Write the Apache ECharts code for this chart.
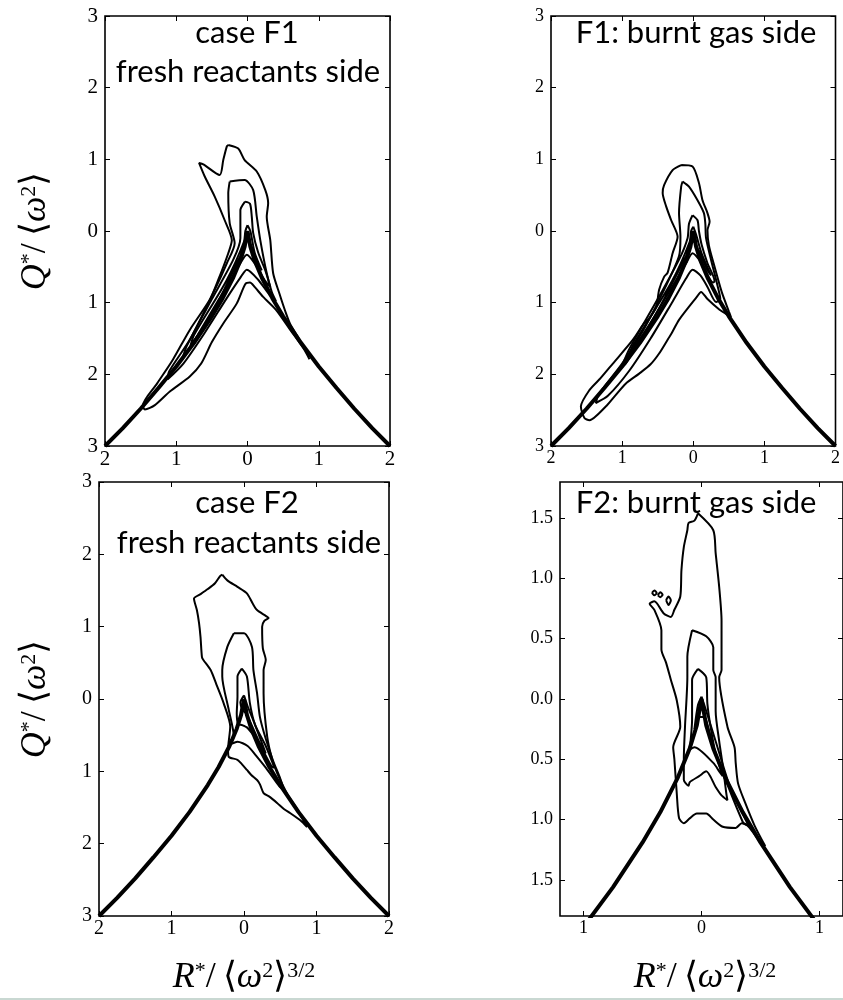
<!DOCTYPE html>
<html>
<head>
<meta charset="utf-8">
<script src="https://cdn.jsdelivr.net/npm/echarts@6/dist/echarts.min.js"></script>
<style>
  html, body { margin: 0; background: #fff; }
  #chart { width: 843px; height: 1000px; }
</style>
</head>
<body>
<div id="chart"></div>
<script>
// Vieillefosse line (same in every panel)
const vlineR = [-2, -1.75, -1.5, -1.25, -1, -0.75, -0.5, -0.35, -0.2, -0.1, -0.04, 0, 0.04, 0.1, 0.2, 0.35, 0.5, 0.75, 1, 1.25, 1.5, 1.75, 2];
const vlineQ = [-3, -2.75, -2.48, -2.19, -1.89, -1.56, -1.19, -0.94, -0.65, -0.41, -0.22, 0, -0.22, -0.41, -0.65, -0.94, -1.19, -1.56, -1.89, -2.19, -2.48, -2.75, -3];

// tick values
const ticksR = [-2, -1, 0, 1, 2];
const ticksQ = [-3, -2, -1, 0, 1, 2, 3];
const ticksRzoom = [-1, 0, 1];
const ticksQzoom = [-1.5, -1, -0.5, 0, 0.5, 1, 1.5];

// case F1, fresh reactants side: contour lines [R, Q]
const f1FreshC1 = [[-0.27,1.2],[-0.13,1.15],[-0.04,0.99],[0.13,0.83],[0.25,0.57],[0.29,0.39],[0.27,0.2],[0.32,-0.13],[0.36,-0.59],[0.45,-0.88],[0.53,-1.12],[0.6,-1.3],[0.72,-1.5],[0.87,-1.79],[0.8,-1.66],[0.6,-1.38],[0.4,-1.1],[0.22,-0.92],[0.1,-0.78],[0.035,-0.72],[-0.03,-0.74],[-0.15,-1.01],[-0.34,-1.29],[-0.5,-1.55],[-0.65,-1.85],[-0.81,-2.03],[-1.09,-2.24],[-1.3,-2.43],[-1.44,-2.49],[-1.47,-2.44],[-1.27,-2.13],[-1.05,-1.8],[-0.81,-1.38],[-0.53,-0.96],[-0.41,-0.68],[-0.27,-0.31],[-0.22,-0.13],[-0.32,0.15],[-0.46,0.48],[-0.6,0.76],[-0.68,0.95],[-0.62,0.93],[-0.39,0.78],[-0.34,0.99],[-0.29,1.18],[-0.27,1.2]];
const f1FreshC2 = [[-0.25,0.69],[-0.04,0.71],[0.08,0.57],[0.13,0.2],[0.18,-0.13],[0.27,-0.59],[0.34,-0.85],[0.4,-0.98],[0.3,-0.88],[0.15,-0.68],[-0.01,-0.54],[-0.1,-0.65],[-0.3,-0.95],[-0.6,-1.42],[-0.9,-1.85],[-1.12,-2.07],[-1.1,-1.96],[-0.8,-1.5],[-0.46,-0.82],[-0.29,-0.45],[-0.18,-0.17],[-0.25,0.11],[-0.27,0.53],[-0.25,0.69]];
const f1FreshC3 = [[-0.035,0.41],[0.035,0.38],[0.06,0.2],[0.08,-0.03],[0.15,-0.3],[0.25,-0.55],[0.32,-0.78],[0.25,-0.7],[0.1,-0.45],[-0.01,-0.33],[-0.1,-0.45],[-0.4,-0.95],[-0.7,-1.45],[-0.92,-1.8],[-0.85,-1.6],[-0.5,-0.95],[-0.2,-0.4],[-0.1,-0.1],[-0.1,0.1],[-0.1,0.29],[-0.035,0.41]];
const f1FreshC4 = [[0,0.08],[0.04,0],[0.1,-0.3],[0.2,-0.55],[0.15,-0.45],[0.03,-0.17],[-0.01,-0.12],[-0.1,-0.35],[-0.5,-1.15],[-0.8,-1.6],[-0.75,-1.45],[-0.3,-0.7],[-0.05,-0.15],[-0.03,0],[0,0.08]];

// F1, burnt gas side
const f1BurntC1 = [[-0.17,0.92],[-0.01,0.9],[0.08,0.67],[0.13,0.43],[0.2,0.25],[0.23,0.13],[0.2,0.01],[0.22,-0.2],[0.3,-0.5],[0.4,-0.85],[0.5,-1.12],[0.53,-1.2],[0.45,-1.15],[0.37,-1.1],[0.2,-0.95],[0.11,-0.85],[0.05,-0.92],[-0.2,-1.24],[-0.3,-1.42],[-0.35,-1.5],[-0.48,-1.71],[-0.6,-1.86],[-0.76,-1.99],[-0.95,-2.13],[-1.1,-2.3],[-1.23,-2.45],[-1.46,-2.64],[-1.53,-2.61],[-1.58,-2.45],[-1.46,-2.22],[-1.3,-2.05],[-1.13,-1.85],[-0.85,-1.52],[-0.7,-1.3],[-0.62,-1.22],[-0.52,-1.06],[-0.48,-0.82],[-0.41,-0.64],[-0.36,-0.58],[-0.29,-0.31],[-0.22,-0.08],[-0.31,0.15],[-0.38,0.34],[-0.43,0.53],[-0.41,0.64],[-0.29,0.85],[-0.17,0.92]];
const f1BurntC2 = [[-0.15,0.69],[-0.06,0.62],[0.06,0.43],[0.15,0.25],[0.17,0.1],[0.18,-0.1],[0.25,-0.4],[0.35,-0.8],[0.38,-0.95],[0.32,-0.99],[0.2,-0.78],[0.1,-0.62],[-0.01,-0.54],[-0.1,-0.66],[-0.3,-1.0],[-0.6,-1.5],[-0.9,-1.95],[-1.2,-2.3],[-1.37,-2.4],[-1.33,-2.28],[-1.0,-1.85],[-0.7,-1.38],[-0.4,-0.8],[-0.2,-0.35],[-0.18,-0.08],[-0.2,0.25],[-0.17,0.62],[-0.15,0.69]];
const f1BurntC3 = [[-0.01,0.22],[0.06,0.15],[0.08,0.0],[0.12,-0.2],[0.2,-0.45],[0.3,-0.7],[0.28,-0.72],[0.12,-0.45],[-0.01,-0.31],[-0.1,-0.45],[-0.4,-0.95],[-0.7,-1.45],[-0.95,-1.85],[-1.0,-1.88],[-0.9,-1.65],[-0.5,-0.95],[-0.2,-0.4],[-0.08,-0.1],[-0.06,0.1],[-0.01,0.22]];
const f1BurntC4 = [[0,0.06],[0.04,-0.05],[0.12,-0.32],[0.25,-0.62],[0.2,-0.55],[0.03,-0.18],[-0.01,-0.13],[-0.1,-0.35],[-0.55,-1.2],[-0.9,-1.72],[-0.85,-1.6],[-0.3,-0.7],[-0.05,-0.15],[-0.03,0],[0,0.06]];

// case F2, fresh reactants side
const f2FreshC1 = [[-0.3,1.72],[-0.23,1.64],[-0.09,1.55],[0.04,1.46],[0.12,1.32],[0.18,1.23],[0.3,1.15],[0.34,1.12],[0.28,1.08],[0.25,1.0],[0.26,0.7],[0.3,0.54],[0.27,0.4],[0.27,0.08],[0.32,-0.52],[0.39,-0.84],[0.46,-1.03],[0.6,-1.32],[0.75,-1.55],[0.87,-1.77],[0.78,-1.68],[0.64,-1.58],[0.55,-1.52],[0.46,-1.44],[0.35,-1.35],[0.27,-1.3],[0.22,-1.18],[0.18,-1.12],[0.1,-1.05],[0.04,-0.98],[-0.03,-0.9],[-0.09,-0.84],[-0.21,-0.8],[-0.22,-0.7],[-0.19,-0.38],[-0.28,-0.06],[-0.38,0.2],[-0.46,0.4],[-0.56,0.54],[-0.58,0.58],[-0.6,0.86],[-0.62,1.05],[-0.65,1.23],[-0.69,1.39],[-0.6,1.45],[-0.5,1.52],[-0.4,1.6],[-0.33,1.7],[-0.3,1.72]];
const f2FreshC2 = [[-0.14,0.91],[0.0,0.91],[0.11,0.72],[0.13,0.4],[0.18,0.08],[0.22,-0.25],[0.3,-0.55],[0.4,-0.85],[0.5,-1.1],[0.55,-1.25],[0.5,-1.22],[0.46,-1.17],[0.3,-0.95],[0.18,-0.8],[0.05,-0.65],[-0.09,-0.59],[-0.18,-0.62],[-0.2,-0.6],[-0.14,-0.52],[-0.21,-0.15],[-0.3,0.31],[-0.3,0.4],[-0.23,0.72],[-0.14,0.91]];
const f2FreshC3 = [[-0.03,0.42],[0.04,0.31],[0.08,-0.05],[0.15,-0.35],[0.3,-0.65],[0.42,-0.95],[0.38,-0.93],[0.2,-0.6],[0.05,-0.4],[-0.03,-0.36],[-0.08,-0.35],[-0.1,-0.2],[-0.09,0.03],[-0.09,0.31],[-0.03,0.42]];
const f2FreshC4 = [[0,0.05],[0.05,-0.1],[0.15,-0.35],[0.3,-0.75],[0.25,-0.68],[0.03,-0.2],[-0.02,-0.15],[-0.05,-0.05],[0,0.05]];

// F2, burnt gas side
const f2BurntC1 = [[-0.03,1.54],[0.1,1.4],[0.12,1.21],[0.15,0.93],[0.17,0.65],[0.17,0.24],[0.15,0.18],[0.22,-0.23],[0.28,-0.4],[0.29,-0.53],[0.31,-0.7],[0.37,-0.86],[0.45,-1.05],[0.54,-1.22],[0.5,-1.19],[0.4,-1.06],[0.34,-1.03],[0.29,-1.07],[0.18,-1.06],[0.1,-1.0],[0.04,-0.95],[-0.04,-0.95],[-0.1,-0.99],[-0.15,-1.03],[-0.19,-0.99],[-0.21,-0.78],[-0.23,-0.5],[-0.24,-0.4],[-0.18,-0.23],[-0.21,-0.01],[-0.26,0.16],[-0.3,0.3],[-0.34,0.41],[-0.34,0.57],[-0.4,0.74],[-0.44,0.79],[-0.4,0.81],[-0.32,0.71],[-0.26,0.68],[-0.23,0.74],[-0.18,0.85],[-0.17,1.07],[-0.15,1.26],[-0.12,1.4],[-0.11,1.46],[-0.06,1.48],[-0.03,1.54]];
const f2BurntIsle1 = [[-0.42,0.88],[-0.4,0.9],[-0.38,0.88],[-0.4,0.86],[-0.42,0.88]];
const f2BurntIsle2 = [[-0.37,0.86],[-0.35,0.885],[-0.33,0.865],[-0.35,0.845],[-0.37,0.86]];
const f2BurntIsle3 = [[-0.3,0.82],[-0.28,0.85],[-0.26,0.82],[-0.28,0.78],[-0.3,0.82]];
const f2BurntC2 = [[-0.08,0.57],[0.04,0.52],[0.1,0.43],[0.1,0.24],[0.12,0.18],[0.12,-0.1],[0.15,-0.35],[0.18,-0.55],[0.21,-0.78],[0.22,-0.84],[0.17,-0.8],[0.12,-0.73],[0.04,-0.6],[-0.02,-0.64],[-0.1,-0.69],[-0.11,-0.72],[-0.15,-0.67],[-0.15,-0.5],[-0.14,-0.23],[-0.12,0.18],[-0.12,0.35],[-0.08,0.57]];
const f2BurntC3 = [[-0.03,0.25],[0.04,0.18],[0.05,-0.04],[0.08,-0.25],[0.12,-0.45],[0.18,-0.64],[0.15,-0.6],[0.1,-0.53],[-0.06,-0.4],[-0.1,-0.42],[-0.08,-0.17],[-0.08,0.16],[-0.03,0.25]];
const f2BurntC4 = [[0,0.02],[0.04,-0.1],[0.12,-0.35],[0.25,-0.75],[0.4,-1.05],[0.35,-1.02],[0.1,-0.4],[0.02,-0.15],[-0.03,-0.15],[-0.06,-0.25],[-0.03,-0.05],[0,0.02]];

const vline = vlineR.map((r, i) => [r, vlineQ[i]]);

const panels = [
    { grid: { left: 105, top: 16, width: 285, height: 430 }, xr: [-2, 2], yr: [-3, 3], xt: ticksR, yt: ticksQ, fs: 21, dec: 0,
      contours: [f1FreshC1, f1FreshC2, f1FreshC3, f1FreshC4] },
    { grid: { left: 551, top: 16, width: 285, height: 430 }, xr: [-2, 2], yr: [-3, 3], xt: ticksR, yt: ticksQ, fs: 18, dec: 0,
      contours: [f1BurntC1, f1BurntC2, f1BurntC3, f1BurntC4] },
    { grid: { left: 99, top: 482, width: 290, height: 434 }, xr: [-2, 2], yr: [-3, 3], xt: ticksR, yt: ticksQ, fs: 20, dec: 0,
      contours: [f2FreshC1, f2FreshC2, f2FreshC3, f2FreshC4] },
    { grid: { left: 560, top: 482, width: 290, height: 434 }, xr: [-1.2, 1.2], yr: [-1.8, 1.8], xt: ticksRzoom, yt: ticksQzoom, fs: 18, dec: 1,
      contours: [f2BurntC1, f2BurntIsle1, f2BurntIsle2, f2BurntIsle3, f2BurntC2, f2BurntC3, f2BurntC4] }
];

const serif = 'Liberation Serif';
const sans = 'Lato';

const grids = [], xAxes = [], yAxes = [], series = [];

panels.forEach((p, i) => {
    grids.push(Object.assign({ show: true, borderColor: '#000', borderWidth: 1.6, containLabel: false }, p.grid));
    const tick = { show: true, inside: true, length: 5, lineStyle: { color: '#000', width: 1 } };
    const fmtX = v => String(Math.abs(v));
    const fmtY = v => Math.abs(v).toFixed(p.dec);
    ['bottom', 'top'].forEach((pos, k) => {
        xAxes.push({
            type: 'value', gridIndex: i, position: pos, min: p.xr[0], max: p.xr[1],
            axisLine: { show: false, onZero: false }, splitLine: { show: false },
            axisTick: Object.assign({ customValues: p.xt }, tick),
            axisLabel: { show: k === 0, customValues: p.xt, formatter: fmtX, color: '#000',
                         fontFamily: serif, fontSize: p.fs, margin: 3 }
        });
    });
    ['left', 'right'].forEach((pos, k) => {
        yAxes.push({
            type: 'value', gridIndex: i, position: pos, min: p.yr[0], max: p.yr[1],
            axisLine: { show: false, onZero: false }, splitLine: { show: false },
            axisTick: Object.assign({ customValues: p.yt }, tick),
            axisLabel: { show: k === 0, customValues: p.yt, formatter: fmtY, color: '#000',
                         fontFamily: serif, fontSize: p.fs, margin: 7 }
        });
    });
    series.push({
        type: 'line', xAxisIndex: 2 * i, yAxisIndex: 2 * i, data: vline,
        showSymbol: false, silent: true, lineStyle: { color: '#000', width: 4 }, z: 3
    });
    p.contours.forEach(c => {
        series.push({
            type: 'line', xAxisIndex: 2 * i, yAxisIndex: 2 * i, data: c,
            showSymbol: false, silent: true, smooth: 0.25,
            lineStyle: { color: '#000', width: 2 }, z: 2
        });
    });
});

const titleStyle = { fontFamily: sans, fontSize: 31, fill: '#000', align: 'center', verticalAlign: 'middle' };
const mathRich = {
    i: { fontFamily: serif, fontStyle: 'italic', fontSize: 36 },
    n: { fontFamily: serif, fontSize: 36 },
    s: { fontFamily: serif, fontSize: 22, verticalAlign: 'top' }
};
const qLabel = '{i|Q}{s|*}{n|/\u2009\u27e8}{i|\u03c9}{s|2}{n|\u27e9}';
const rLabel = '{i|R}{s|*}{n|/\u2009\u27e8}{i|\u03c9}{s|2}{n|\u27e9}{s|3/2}';

const texts = [
    ['case F1', 247, 33], ['fresh reactants side', 248, 72],
    ['F1: burnt gas side', 696, 33],
    ['case F2', 247, 503], ['fresh reactants side', 249, 543],
    ['F2: burnt gas side', 696, 503]
];

const graphic = texts.map(t => ({
    type: 'text', x: t[1], y: t[2], z: 10,
    style: Object.assign({ text: t[0] }, titleStyle)
}));
[231, 699].forEach(y => graphic.push({
    type: 'text', x: 36, y: y, rotation: Math.PI / 2,
    style: { text: qLabel, rich: mathRich, fill: '#000', align: 'center', verticalAlign: 'middle' }
}));
[244, 705].forEach(x => graphic.push({
    type: 'text', x: x, y: 978,
    style: { text: rLabel, rich: mathRich, fill: '#000', align: 'center', verticalAlign: 'middle' }
}));
graphic.push({ type: 'rect', shape: { x: 0, y: 998, width: 843, height: 2 }, style: { fill: '#c9d8d2' } });

const chart = echarts.init(document.getElementById('chart'));
chart.setOption({
    animation: false,
    backgroundColor: '#fff',
    grid: grids,
    xAxis: xAxes,
    yAxis: yAxes,
    series: series,
    graphic: graphic
});
</script>
</body>
</html>
